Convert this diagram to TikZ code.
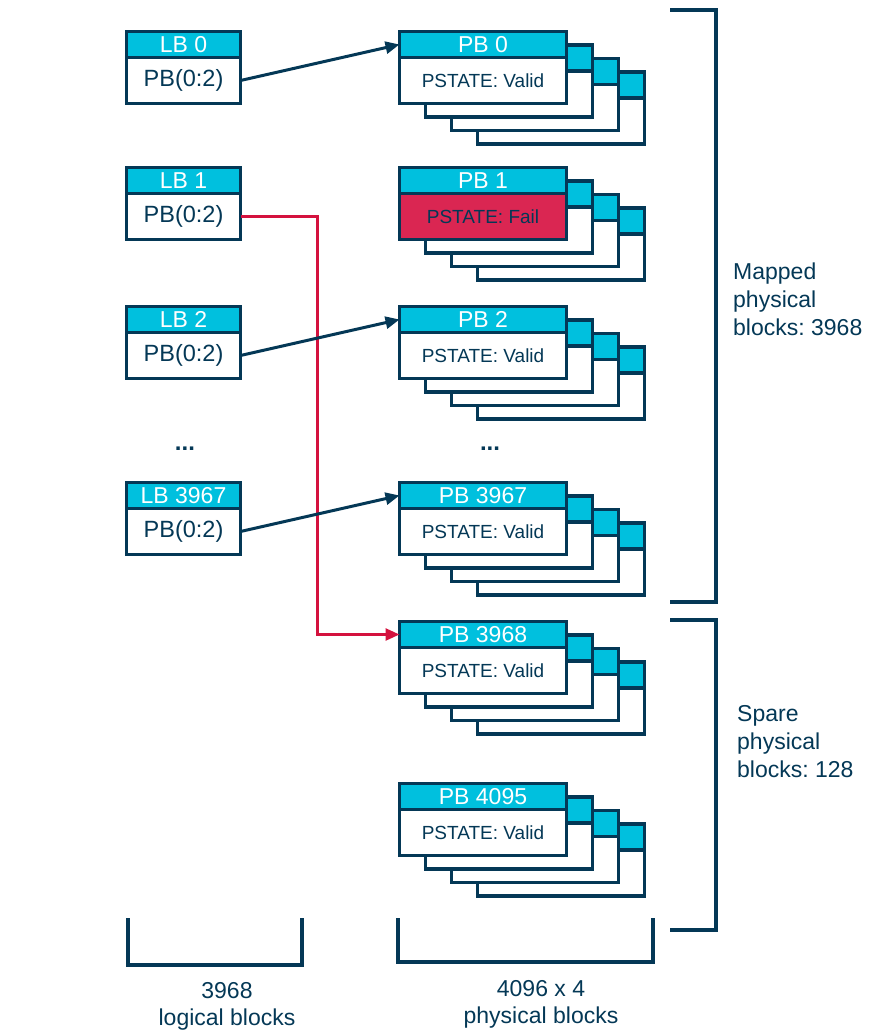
\documentclass[tikz,border=0pt]{standalone}
\usepackage{fontspec}
\setmainfont{Liberation Sans}
\usetikzlibrary{arrows.meta,positioning}
\definecolor{tinavy}{RGB}{4,56,86}
\definecolor{ticyan}{RGB}{0,192,222}
\definecolor{failred}{RGB}{218,38,82}
\definecolor{linkred}{RGB}{212,18,62}
\frenchspacing

\begin{document}
\begin{tikzpicture}[
    x=1pt, y=-1pt,
    hdr/.style={draw=tinavy,line width=3.2pt,fill=ticyan,text=white,inner sep=0pt,outer sep=0pt,minimum height=26pt,anchor=north west,font=\fontsize{23}{26}\selectfont},
    lbhdr/.style={hdr,minimum width=114pt},
    pbhdr/.style={hdr,minimum width=167pt},
    body/.style={draw=tinavy,line width=3.2pt,fill=white,text=tinavy,inner sep=0pt,outer sep=0pt,minimum height=46pt,anchor=north},
    lbbody/.style={body,minimum width=114pt,font=\fontsize{23.5}{27}\selectfont},
    pbbody/.style={body,minimum width=167pt,font=\fontsize{19}{22}\selectfont},
    ghost/.style={draw=tinavy,line width=3.2pt,fill=white},
    arr/.style={-{Triangle[length=14pt,width=12pt]},line width=3pt,draw=tinavy},
    redarr/.style={arr,draw=linkred,line width=2.6pt},
    brk/.style={draw=tinavy,line width=3.2pt},
    lbl/.style={text=tinavy,inner sep=0pt,font=\fontsize{23}{28}\selectfont}
]
\useasboundingbox (0,0) rectangle (884,1031);

% logical blocks
\foreach \i/\t in {0/30,1/166,2/305,3967/481}{
  \node[lbhdr] (lbh\i) at (126.5,\t+1.5) {LB \i};
  \node[lbbody] (lb\i) at (lbh\i.south) {PB(0:2)};
}

% physical blocks, each one a stack of four
\foreach \i/\t/\st/\bg in {0/30/Valid/white,1/166/Fail/failred,2/305/Valid/white,3967/481/Valid/white,3968/620/Valid/white,4095/782/Valid/white}{
  \foreach \k in {3,2,1}{
    \draw[ghost] (399.5+26*\k,\t+1.5+13.5*\k) rectangle ++(167,72);
    \draw[ghost,fill=ticyan] (399.5+26*\k,\t+1.5+13.5*\k) rectangle ++(167,26);
  }
  \node[pbhdr] (pbh\i) at (399.5,\t+1.5) {PB \i};
  \node[pbbody,fill=\bg] (pb\i) at (pbh\i.south) {PSTATE: \st};
}

\node[lbl,font=\bfseries\fontsize{24}{28}\selectfont] (ldots) at (185,449) {...};
\node[lbl,font=\bfseries\fontsize{24}{28}\selectfont] (pdots) at (490,449) {...};

% remapped block
\draw[redarr] (lb1.east) -- ++(77,0) |- (pbh3968.west);

\draw[arr] (lb0.east) -- (pbh0.west);
\draw[arr] (lb2.east) -- (pbh2.west);
\draw[arr] (lb3967.east) -- (pbh3967.west);

% brackets
\draw[brk] (670,10) -- (716,10) -- (716,602) -- (670,602);
\draw[brk] (670,620) -- (716,620) -- (716,930) -- (670,930);
\draw[brk] (128,918) -- (128,965) -- (302,965) -- (302,918);
\draw[brk] (398,918) -- (398,962) -- (653,962) -- (653,918);

\node[lbl,align=left,anchor=west] (mapped) at (733,299) {Mapped\\physical\\blocks: 3968};
\node[lbl,align=left,anchor=west] (spare) at (737,742) {Spare\\physical\\blocks: 128};
\node[lbl,align=center,font=\fontsize{23}{27}\selectfont] (lbcount) at (227,1006) {3968\\logical blocks};
\node[lbl,align=center,font=\fontsize{23}{27}\selectfont] (pbcount) at (541,1004) {4096 x 4\\physical blocks};
\end{tikzpicture}
\end{document}
